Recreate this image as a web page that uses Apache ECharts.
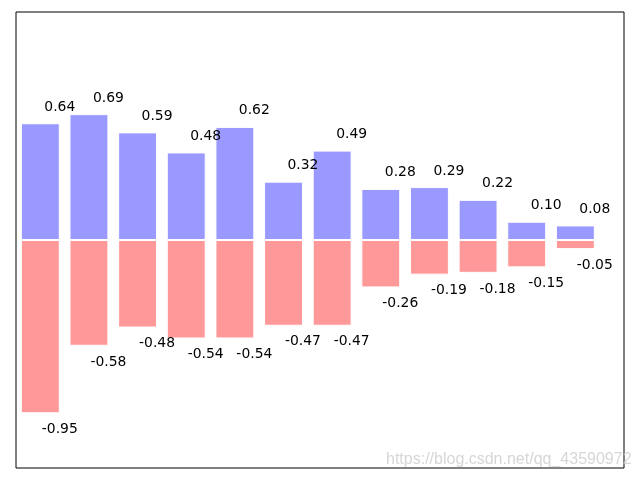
<!DOCTYPE html>
<html><head><meta charset="utf-8">
<script src="https://cdn.jsdelivr.net/npm/echarts@6/dist/echarts.min.js"></script>
<style>html,body{margin:0;padding:0;background:#fff}#c{width:640px;height:480px}</style>
</head><body><div id="c"></div>
<script>
const positions = [0,1,2,3,4,5,6,7,8,9,10,11];
const upValues = [0.64,0.69,0.59,0.48,0.62,0.32,0.49,0.28,0.29,0.22,0.10,0.08];
const downValues = [-0.95,-0.58,-0.48,-0.54,-0.54,-0.47,-0.47,-0.26,-0.19,-0.18,-0.15,-0.05];

const chart = echarts.init(document.getElementById('c'), null, {renderer:'canvas'});
const pxPerX = 608/12.5;
const pxPerY = 456/2.5;
const lbl = (pos) => ({
  show:true, position:pos, distance:0.05*pxPerY, offset:[0.4*pxPerX,0],
  color:'#000', fontSize:13.9, fontFamily:'DejaVu Sans',
  formatter: p => p.value[1].toFixed(2)
});
chart.setOption({
  animation:false,
  grid:{left:16,right:16,top:12,bottom:12,show:true,borderColor:'#000',borderWidth:1,backgroundColor:'transparent'},
  xAxis:{type:'value',min:-0.5,max:12,show:false},
  yAxis:{type:'value',min:-1.25,max:1.25,show:false},
  series:[
    {type:'bar',stack:'s',barWidth:0.8*pxPerX,data:positions.map((x,i)=>[x,upValues[i]]),
     itemStyle:{color:'#9999ff',borderColor:'#fff',borderWidth:1},label:lbl('top')},
    {type:'bar',stack:'s',barWidth:0.8*pxPerX,data:positions.map((x,i)=>[x,downValues[i]]),
     itemStyle:{color:'#ff9999',borderColor:'#fff',borderWidth:1},label:lbl('bottom')}
  ],
  graphic:[{type:'text',left:386,top:452,z:100,style:{text:'https://blog.csdn.net/qq_43590972',fill:'rgba(200,200,200,0.75)',font:'16px "Liberation Sans"'}}]
});
</script></body></html>
